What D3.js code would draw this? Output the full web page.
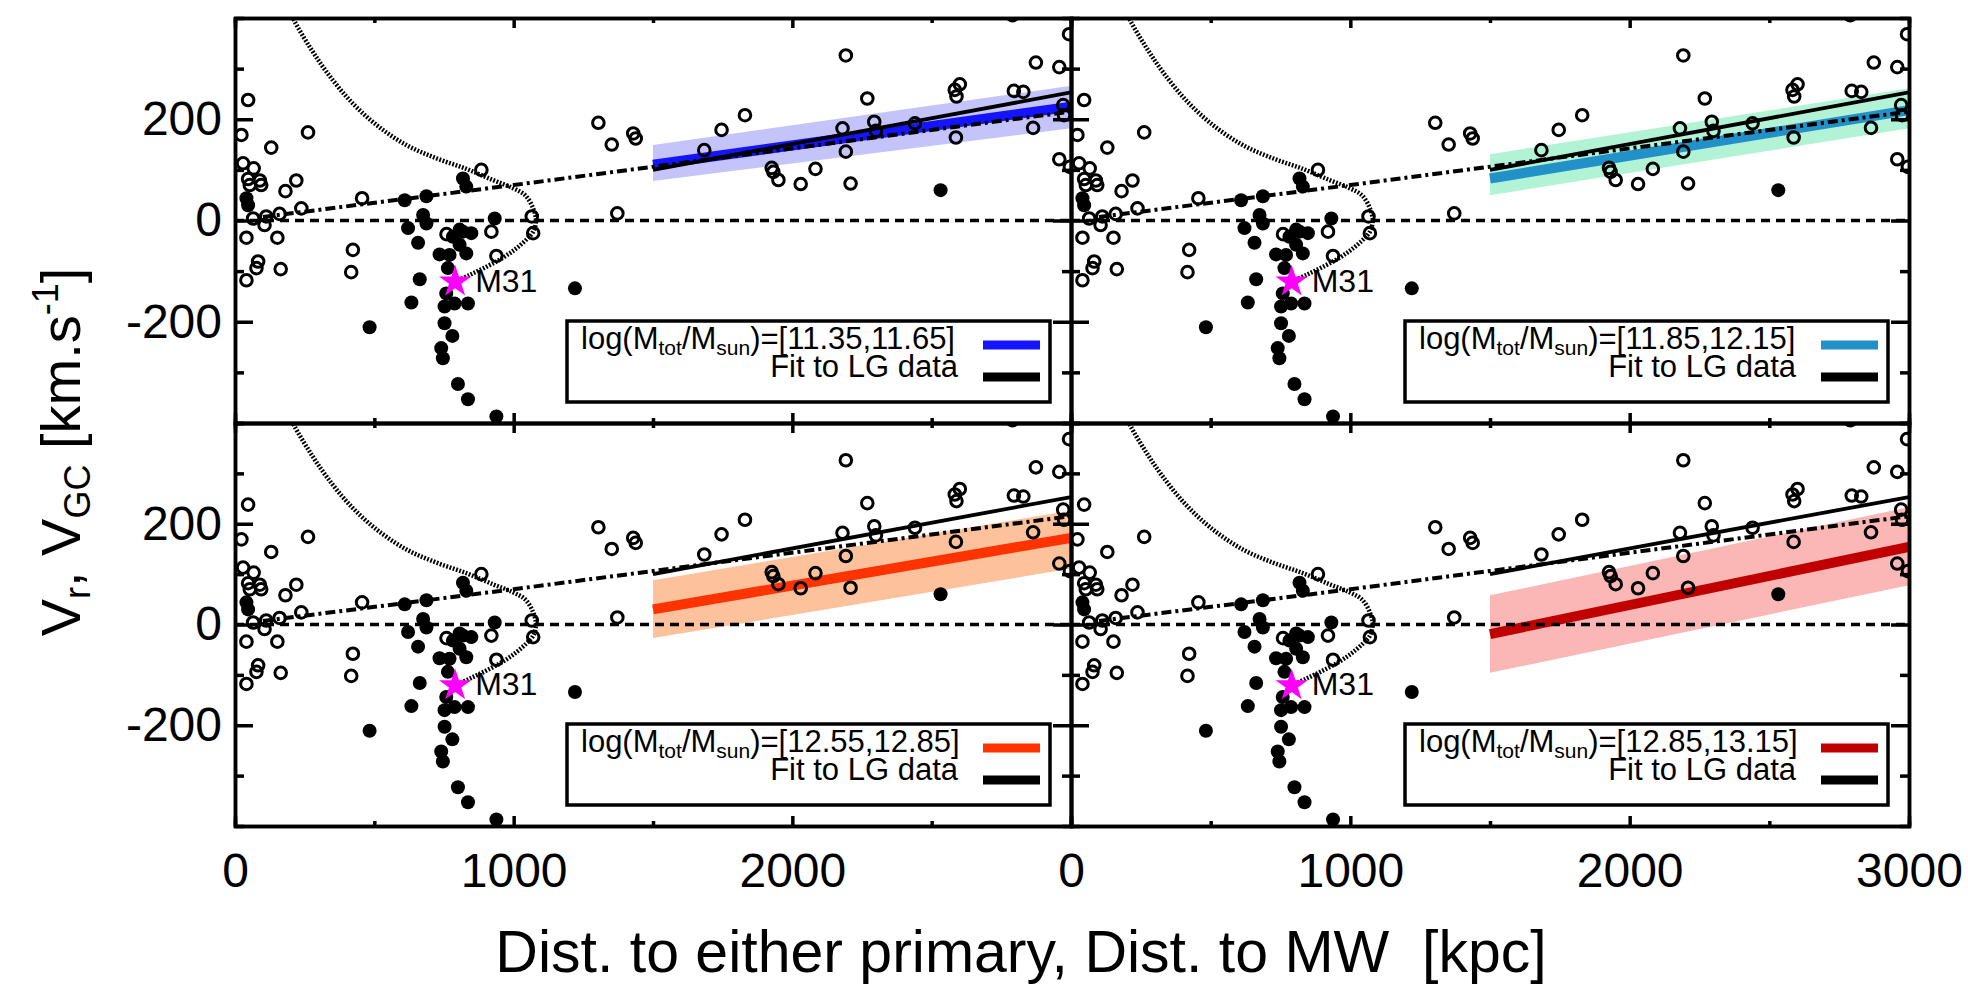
<!DOCTYPE html>
<html>
<head>
<meta charset="utf-8">
<script src="https://cdn.jsdelivr.net/npm/d3@7"></script>
<style>
body { margin: 0; background: #fff; }
svg { display: block; font-family: "Liberation Sans", Arial, Helvetica, sans-serif; }
</style>
</head>
<body>
<svg id="chart" width="1968" height="984"></svg>
<script>
// galaxies, [distance kpc, velocity km/s] -- same in every panel
var openGalaxies = [
    [47, 238], [23, 169], [262, 174], [130, 144], [29, 113], [67, 103], [47, 82], [89, 79],
    [53, 70], [94, 70], [220, 79], [181, 58], [456, 44], [238, 24], [160, 13], [112, 8],
    [65, 4], [106, -9], [41, -34], [152, -34], [83, -81], [77, -94], [164, -96], [41, -118],
    [423, -58], [417, -102], [884, 100], [920, -22], [938, -70], [759, -27], [1065, 8], [1070, -25],
    [1304, 193], [1352, 150], [1429, 172], [1438, 162], [1372, 14], [1684, 139], [1746, 179],
    [1830, 208], [1926, 104], [1932, 96], [1950, 80], [2030, 72], [2083, 102], [2192, 326],
    [2269, 241], [2180, 182], [2192, 136], [2294, 195], [2300, 177], [2209, 73], [2440, 192],
    [2583, 258], [2601, 269], [2589, 245], [2587, 164], [2795, 256], [2829, 254], [2874, 312],
    [2958, 303], [2993, 368], [2864, 183], [2972, 228], [2975, 208], [2958, 121], [2996, 106]
];
var filledGalaxies = [
    [41, 44], [47, 30], [609, 40], [687, 48], [818, 83], [830, 67], [675, 11], [687, -6],
    [621, -15], [657, -44], [932, 4], [782, -32], [806, -18], [818, -22], [848, -25], [806, -48],
    [830, -65], [734, -67], [770, -68], [764, -94], [663, -116], [758, -144], [788, -164],
    [836, -164], [752, -170], [633, -162], [483, -211], [752, -203], [780, -228], [740, -252],
    [746, -272], [800, -323], [836, -353], [938, -387], [1220, -134], [2532, 60], [2790, 405]
];
var m31 = [790, -121];

var zeroCurve = [
    [200, 410], [214, 393], [268, 343], [328, 294], [411, 238], [507, 189], [615, 149],
    [722, 123], [830, 102], [925, 80], [997, 64], [1041, 50], [1070, 24], [1080, 0],
    [1070, -22], [1045, -38], [1005, -57], [960, -74], [900, -92], [840, -108], [790, -121]
];
var hubbleLine = [[100, 7], [1000, 70], [3000, 215]];
var lgFit = [[1500, 100], [3000, 253]];

// simulated halos, one mass bin per panel
var massRanges = ["[11.35,11.65]", "[11.85,12.15]", "[12.55,12.85]", "[12.85,13.15]"];
var lineColors = ["#1414ff", "#2191c8", "#ff3300", "#c00000"];
var bandColors = ["#c4c4fa", "#b2f3d6", "#fdc19b", "#fbb6b6"];
var fitRange = [1500, 3000];
var medianStart = [110, 83, 30, -19];
var medianEnd = [225, 218, 172, 154];
var lowStart = [78, 50, -27, -96];
var lowEnd = [182, 182, 111, 78];
var highStart = [149, 131, 88, 58];
var highEnd = [266, 261, 226, 233];

var yMajor = [-200, 0, 200];
var yMinor = [-300, -100, 100, 300];
var xMajor = [0, 1000, 2000, 3000];
var xMinor = [500, 1500, 2500];

var svg = d3.select("#chart");
var cols = [[235, 1071], [1071, 1909]];
var rows = [[18, 423], [423, 826]];

for (var i = 0; i < 4; i++) drawPanel(i);

function drawPanel(i) {
    var col = i % 2,
        row = Math.floor(i / 2);
    var x = d3.scaleLinear().domain([0, 3000]).range(cols[col]);
    var y = d3.scaleLinear().domain([-400, 400]).range([rows[row][1], rows[row][0]]);
    var left = cols[col][0], right = cols[col][1], top = rows[row][0], bottom = rows[row][1];

    svg.append("clipPath").attr("id", "clip" + i)
        .append("rect")
        .attr("x", left).attr("y", top)
        .attr("width", right - left).attr("height", bottom - top);

    var g = svg.append("g");
    var plot = g.append("g").attr("clip-path", "url(#clip" + i + ")");
    var line = d3.line().x(d => x(d[0])).y(d => y(d[1]));

    var band = [
        {d: fitRange[0], lo: lowStart[i], hi: highStart[i]},
        {d: fitRange[1], lo: lowEnd[i], hi: highEnd[i]}
    ];
    plot.append("path")
        .datum(band)
        .attr("d", d3.area().x(d => x(d.d)).y0(d => y(d.lo)).y1(d => y(d.hi)))
        .attr("fill", bandColors[i]);

    plot.append("path")
        .datum([[fitRange[0], medianStart[i]], [fitRange[1], medianEnd[i]]])
        .attr("d", line)
        .attr("stroke", lineColors[i])
        .attr("stroke-width", 10)
        .attr("fill", "none");

    plot.append("path")
        .datum(lgFit)
        .attr("d", line)
        .attr("stroke", "#000")
        .attr("stroke-width", 3.8)
        .attr("fill", "none");

    plot.append("path")
        .datum([[0, 0], [3000, 0]])
        .attr("d", line)
        .attr("stroke", "#000")
        .attr("stroke-width", 3.5)
        .attr("stroke-dasharray", "9,6")
        .attr("fill", "none");

    plot.append("path")
        .datum(hubbleLine)
        .attr("d", line)
        .attr("stroke", "#000")
        .attr("stroke-width", 4)
        .attr("stroke-dasharray", "10,4,3,4")
        .attr("fill", "none");

    plot.append("path")
        .datum(zeroCurve)
        .attr("d", line.curve(d3.curveCatmullRom))
        .attr("stroke", "#000")
        .attr("stroke-width", 4.5)
        .attr("stroke-dasharray", "1.8,1.6")
        .attr("fill", "none");

    plot.append("g")
        .selectAll("circle")
        .data(openGalaxies)
        .join("circle")
        .attr("cx", d => x(d[0]))
        .attr("cy", d => y(d[1]))
        .attr("r", 5.8)
        .attr("fill", "none")
        .attr("stroke", "#000")
        .attr("stroke-width", 3);

    plot.append("g")
        .selectAll("circle")
        .data(filledGalaxies)
        .join("circle")
        .attr("cx", d => x(d[0]))
        .attr("cy", d => y(d[1]))
        .attr("r", 7)
        .attr("fill", "#000");

    plot.append("path")
        .attr("d", d3.symbol(d3.symbolStar, 324)())
        .attr("transform", "translate(" + x(m31[0]) + "," + y(m31[1]) + ")")
        .attr("fill", "#ff00ff");

    g.append("text")
        .attr("x", x(m31[0]) + 20)
        .attr("y", y(m31[1]) + 10)
        .attr("font-size", 32)
        .text("M31");

    // axes, ticks on all four sides pointing inward
    function styleAxis(a) {
        a.select(".domain").attr("stroke-width", 3.5);
        a.selectAll(".tick line").attr("stroke-width", 3.5);
        a.attr("font-family", null);
    }
    g.append("g")
        .attr("transform", "translate(" + left + ",0)")
        .call(d3.axisLeft(y).tickValues(yMajor).tickSize(-18).tickPadding(13).tickSizeOuter(0)
            .tickFormat(d => col == 0 ? d : ""))
        .attr("font-size", 48)
        .call(styleAxis);
    g.append("g")
        .attr("transform", "translate(" + left + ",0)")
        .call(d3.axisLeft(y).tickValues(yMinor).tickSize(-9).tickFormat(""))
        .call(styleAxis);
    g.append("g")
        .attr("transform", "translate(" + right + ",0)")
        .call(d3.axisRight(y).tickValues(yMajor).tickSize(-18).tickSizeOuter(0).tickFormat(""))
        .call(styleAxis);
    g.append("g")
        .attr("transform", "translate(" + right + ",0)")
        .call(d3.axisRight(y).tickValues(yMinor).tickSize(-9).tickFormat(""))
        .call(styleAxis);
    g.append("g")
        .attr("transform", "translate(0," + top + ")")
        .call(d3.axisTop(x).tickValues(xMajor).tickSize(-10).tickSizeOuter(0).tickFormat(""))
        .call(styleAxis);
    g.append("g")
        .attr("transform", "translate(0," + top + ")")
        .call(d3.axisTop(x).tickValues(xMinor).tickSize(-5).tickFormat(""))
        .call(styleAxis);
    g.append("g")
        .attr("transform", "translate(0," + bottom + ")")
        .call(d3.axisBottom(x).tickValues(xMajor).tickSize(-10).tickPadding(27).tickSizeOuter(0)
            .tickFormat(d => (row == 1 && (col == 1 || d < 3000)) ? d : ""))
        .attr("font-size", 48)
        .call(styleAxis);
    g.append("g")
        .attr("transform", "translate(0," + bottom + ")")
        .call(d3.axisBottom(x).tickValues(xMinor).tickSize(-5).tickFormat(""))
        .call(styleAxis);

    // legend box
    var bw = 483, bh = 81;
    var bx = right - 21 - bw, by = bottom - 21 - bh;
    var legend = g.append("g");
    legend.append("rect")
        .attr("x", bx).attr("y", by)
        .attr("width", bw).attr("height", bh)
        .attr("fill", "#fff")
        .attr("stroke", "#000")
        .attr("stroke-width", 3.5);
    var t = legend.append("text")
        .attr("x", bx + 14)
        .attr("y", by + 28)
        .attr("font-size", 31);
    t.append("tspan").text("log(M");
    t.append("tspan").attr("font-size", 21).attr("dy", 6).text("tot");
    t.append("tspan").attr("dy", -6).text("/M");
    t.append("tspan").attr("font-size", 21).attr("dy", 6).text("sun");
    t.append("tspan").attr("dy", -6).text(")=" + massRanges[i]);
    legend.append("text")
        .attr("x", bx + 391)
        .attr("y", by + 56)
        .attr("font-size", 31)
        .attr("text-anchor", "end")
        .text("Fit to LG data");
    legend.append("line")
        .attr("x1", bx + 416).attr("x2", bx + 473)
        .attr("y1", by + 24).attr("y2", by + 24)
        .attr("stroke", lineColors[i])
        .attr("stroke-width", 9);
    legend.append("line")
        .attr("x1", bx + 416).attr("x2", bx + 473)
        .attr("y1", by + 56).attr("y2", by + 56)
        .attr("stroke", "#000")
        .attr("stroke-width", 9);
}

// axis titles
var yt = svg.append("text")
    .attr("transform", "translate(80,452) rotate(-90)")
    .attr("text-anchor", "middle")
    .attr("font-size", 56);
yt.append("tspan").text("V");
yt.append("tspan").attr("font-size", 36).attr("dy", 10).text("r");
yt.append("tspan").attr("dy", -10).text(", V");
yt.append("tspan").attr("font-size", 36).attr("dy", 10).text("GC");
yt.append("tspan").attr("dy", -10).text(" [km.s");
yt.append("tspan").attr("font-size", 36).attr("dy", -22).text("-1");
yt.append("tspan").attr("dy", 22).text("]");

svg.append("text")
    .attr("x", 1021)
    .attr("y", 972)
    .attr("text-anchor", "middle")
    .attr("font-size", 59)
    .attr("xml:space", "preserve")
    .text("Dist. to either primary, Dist. to MW  [kpc]");
</script>
</body>
</html>
